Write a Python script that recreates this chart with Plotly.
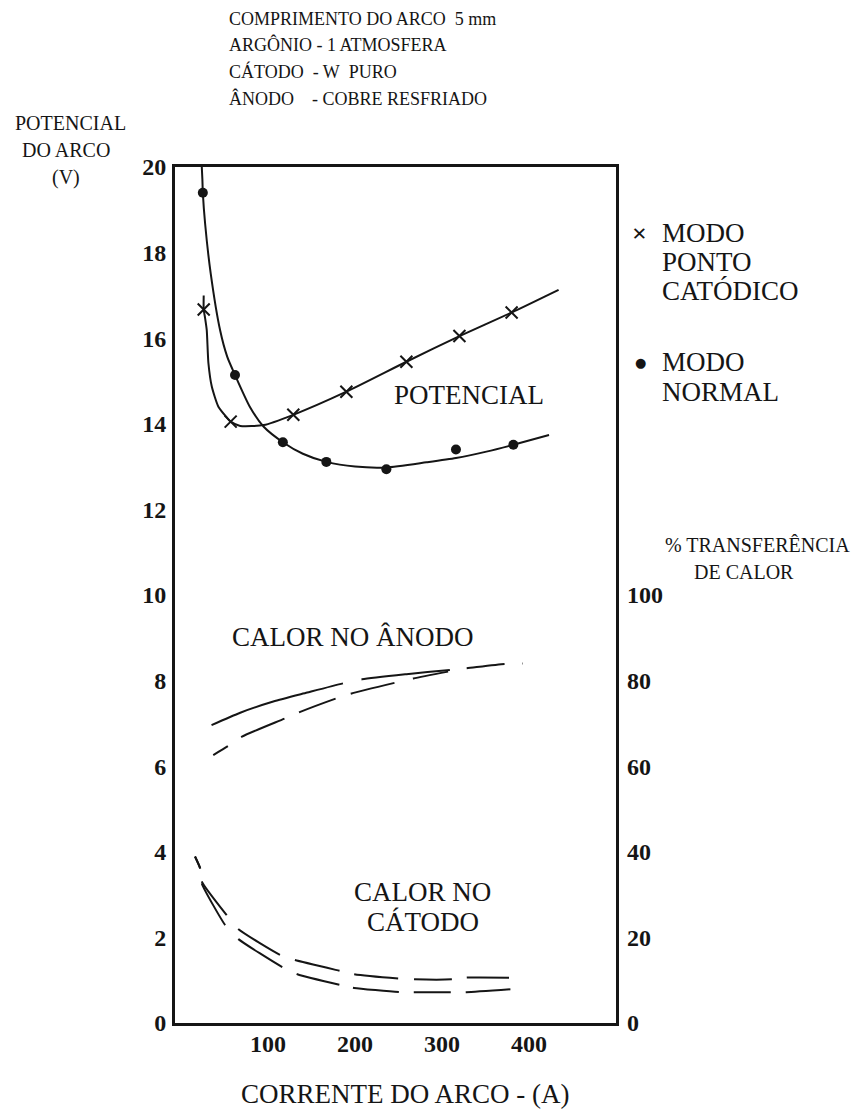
import plotly.graph_objects as go

# ---------------- data ----------------
# Potential of the arc (V) - measured points
I_SPOT_PTS = [26, 57, 129, 190, 259, 320, 380]
V_SPOT_PTS = [16.67, 14.05, 14.21, 14.75, 15.45, 16.05, 16.6]

I_NORMAL_PTS = [25, 62, 117, 167, 236, 316, 382]
V_NORMAL_PTS = [19.4, 15.14, 13.57, 13.11, 12.94, 13.40, 13.51]

# Potential of the arc (V) - drawn curves
I_SPOT_CURVE = [26, 26, 27.6, 29.5, 31.4, 35.3, 42.9, 52.5, 57, 68, 95, 129, 190, 259, 320, 380, 434]
V_SPOT_CURVE = [17.0, 16.67, 16.47, 16.19, 15.42, 14.87, 14.40, 14.15, 14.05, 13.95, 13.97, 14.21,
                14.75, 15.45, 16.05, 16.6, 17.13]

I_NORMAL_CURVE = [23.8, 24.5, 25, 27.6, 34, 44.8, 53, 62, 79, 95, 117, 140, 167, 200, 236, 282,
                  316, 351, 382, 423]
V_NORMAL_CURVE = [20.0, 19.7, 19.4, 18.68, 17.52, 16.19, 15.57, 15.14, 14.40, 13.93, 13.57, 13.3,
                  13.11, 13.0, 12.98, 13.1, 13.2, 13.35, 13.51, 13.74]

# % heat transfer - anode
I_ANODE_A = [35, 68, 106, 145, 187, 208, 259, 309, 328, 372, 393]
P_ANODE_A = [69.6, 72.5, 75.1, 77.2, 79.4, 80.3, 81.5, 82.5, 82.9, 83.9, 84.0]
I_ANODE_B = [37, 54, 70, 120, 137, 179, 196, 246, 267, 307]
P_ANODE_B = [62.6, 64.7, 66.9, 71.2, 72.7, 75.9, 77.0, 79.5, 80.5, 82.1]

# % heat transfer - cathode
I_CATH_A = [16, 22, 24, 52.5, 66, 114, 131, 182, 199, 250, 268, 311, 328, 377]
P_CATH_A = [38.9, 36.1, 33.0, 25.2, 21.9, 15.9, 14.7, 12.2, 11.4, 10.4, 10.2, 10.2, 10.6, 10.6]
I_CATH_B = [16, 22, 23.8, 50.6, 65.9, 116.9, 133.7, 182.8, 198.9, 251.7, 269, 311, 328, 380]
P_CATH_B = [38.9, 36.1, 32.6, 22.9, 19.6, 13.0, 11.4, 8.9, 8.2, 7.2, 7.2, 7.2, 7.2, 7.9]

# axes ticks
X_TICKS = [100, 200, 300, 400]
Y_TICKS = [0, 2, 4, 6, 8, 10, 12, 14, 16, 18, 20]
Y2_TICKS = [0, 20, 40, 60, 80, 100]

HEADER = ["COMPRIMENTO DO ARCO\u00a0\u00a05 mm",
          "ARGÔNIO - 1 ATMOSFERA",
          "CÁTODO\u00a0\u00a0- W\u00a0\u00a0PURO",
          "ÂNODO\u00a0\u00a0\u00a0\u00a0- COBRE RESFRIADO"]
Y_TITLE = ["POTENCIAL", "DO ARCO", "(V)"]
Y2_TITLE = ["% TRANSFERÊNCIA", "DE CALOR"]
X_TITLE = "CORRENTE DO ARCO - (A)"
LEG_SPOT = ["MODO", "PONTO", "CATÓDICO"]
LEG_NORMAL = ["MODO", "NORMAL"]

# ---------------- figure ----------------
W, H = 862, 1115
L, R, T, B = 175, 616, 167, 1023
SERIF = "Liberation Serif, Times New Roman, serif"
INK = "#151515"

fig = go.Figure()

line_w = 2
# potential curves
fig.add_trace(go.Scatter(x=I_NORMAL_CURVE, y=V_NORMAL_CURVE, mode="lines",
                         line=dict(color=INK, width=line_w, shape="spline", smoothing=0.6),
                         hoverinfo="skip", showlegend=False))
fig.add_trace(go.Scatter(x=I_SPOT_CURVE, y=V_SPOT_CURVE, mode="lines",
                         line=dict(color=INK, width=line_w, shape="spline", smoothing=0.6),
                         hoverinfo="skip", showlegend=False))
fig.add_trace(go.Scatter(x=I_NORMAL_PTS, y=V_NORMAL_PTS, mode="markers", name="MODO NORMAL",
                         marker=dict(symbol="circle", size=10, color=INK), showlegend=False))
fig.add_trace(go.Scatter(x=I_SPOT_PTS, y=V_SPOT_PTS, mode="markers", name="MODO PONTO CATÓDICO",
                         marker=dict(symbol="x-thin", size=12, line=dict(color=INK, width=2)),
                         showlegend=False))

# heat transfer curves on the right axis
fig.add_trace(go.Scatter(x=I_ANODE_A, y=P_ANODE_A, mode="lines", yaxis="y2",
                         line=dict(color=INK, width=line_w, shape="spline", smoothing=0.6,
                                   dash="138px,19px,89px,17px,38px,18px,3px,100px"),
                         hoverinfo="skip", showlegend=False))
fig.add_trace(go.Scatter(x=I_ANODE_B, y=P_ANODE_B, mode="lines", yaxis="y2",
                         line=dict(color=INK, width=line_w, shape="spline", smoothing=0.6,
                                   dash="17px,16px,47px,16px,39px,16px,45px,19px,36px,50px"),
                         hoverinfo="skip", showlegend=False))
fig.add_trace(go.Scatter(x=I_CATH_A, y=P_CATH_A, mode="lines", yaxis="y2",
                         line=dict(color=INK, width=line_w, shape="spline", smoothing=0.5,
                                   dash="13px,13px,42px,18px,49px,16px,46px,15px,44px,16px,38px,15px,43px,50px"),
                         hoverinfo="skip", showlegend=False))
fig.add_trace(go.Scatter(x=I_CATH_B, y=P_CATH_B, mode="lines", yaxis="y2",
                         line=dict(color=INK, width=line_w, shape="spline", smoothing=0.5,
                                   dash="13px,15px,48px,19px,52px,16px,44px,14px,46px,15px,37px,15px,45px,50px"),
                         hoverinfo="skip", showlegend=False))

tickfont = dict(family=SERIF, size=24, color=INK, weight="bold")

fig.update_layout(
    width=W, height=H,
    margin=dict(l=L, r=W - R, t=T, b=H - B, pad=0),
    paper_bgcolor="white", plot_bgcolor="white",
    showlegend=False,
    xaxis=dict(range=[-7, 500], tickvals=X_TICKS, ticks="", showgrid=False, zeroline=False,
               showline=True, mirror=True, linecolor=INK, linewidth=3,
               tickfont=tickfont, ticklabelstandoff=-3, automargin=False),
    yaxis=dict(range=[0, 20], tickvals=Y_TICKS, ticks="", showgrid=False, zeroline=False,
               showline=True, mirror=True, linecolor=INK, linewidth=3,
               tickfont=tickfont, ticklabelstandoff=1, automargin=False),
    yaxis2=dict(range=[0, 200], tickvals=Y2_TICKS, ticks="", showgrid=False, zeroline=False,
                overlaying="y", side="right", showline=False,
                tickfont=tickfont, ticklabelstandoff=10, automargin=False),
)


def px_to_paper(px, py):
    return (px - L) / (R - L), (B - py) / (B - T)


def add_text(text, px, py, size, anchor="left", weight="normal", family=SERIF):
    x, y = px_to_paper(px, py)
    fig.add_annotation(text=text, x=x, y=y, xref="paper", yref="paper", showarrow=False,
                       xanchor=anchor, yanchor="middle",
                       font=dict(family=family, size=size, color=INK, weight=weight))


# header block
for txt, py in zip(HEADER, [19, 44.5, 71.5, 99]):
    add_text(txt, 227, py, 18)

# left axis title
for txt, px, py in zip(Y_TITLE, [70, 66, 66], [123, 150, 177]):
    add_text(txt, px, py, 20, anchor="center")

# right axis title
add_text(Y2_TITLE[0], 663, 545, 20)
add_text(Y2_TITLE[1], 744, 572, 20, anchor="center")

# x axis title
add_text(X_TITLE, 405, 1094, 27, anchor="center")

# legend (symbols + multi-line labels)
add_text("×", 639, 233, 26, anchor="center", weight="bold")
add_text("●", 640, 362, 13, anchor="center", family="DejaVu Sans")
for txt, py in zip(LEG_SPOT, [233, 262, 291]):
    add_text(txt, 660, py, 27)
for txt, py in zip(LEG_NORMAL, [362, 392]):
    add_text(txt, 660, py, 27)

# in-plot labels (data coordinates)
fig.add_annotation(text="POTENCIAL", x=331, y=14.67, xref="x", yref="y", showarrow=False,
                   font=dict(family=SERIF, size=27, color=INK))
fig.add_annotation(text="CALOR NO ÂNODO", x=198, y=9.02, xref="x", yref="y", showarrow=False,
                   font=dict(family=SERIF, size=27, color=INK))
fig.add_annotation(text="CALOR NO", x=278, y=3.06, xref="x", yref="y", showarrow=False,
                   font=dict(family=SERIF, size=27, color=INK))
fig.add_annotation(text="CÁTODO", x=278, y=2.36, xref="x", yref="y", showarrow=False,
                   font=dict(family=SERIF, size=27, color=INK))

fig.write_html("out.html")
